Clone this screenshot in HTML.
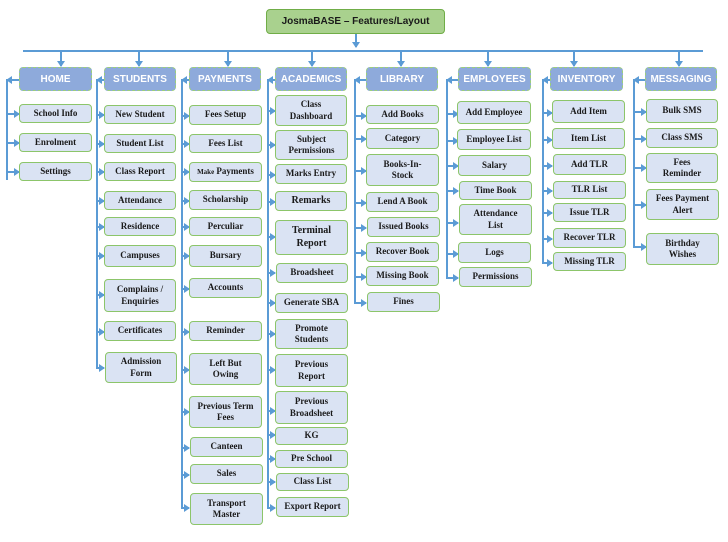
<!DOCTYPE html>
<html><head><meta charset="utf-8"><style>
html,body{margin:0;padding:0;background:#fff}
#w{position:relative;width:728px;height:542px;overflow:hidden}
.b{position:absolute;box-sizing:border-box;background:#dae3f3;border:1.5px solid #8cc56a;border-radius:4px;display:flex;align-items:center;justify-content:center;text-align:center;font:bold 9px/1.25 "Liberation Serif",serif;color:#1a1a1a}
.h{position:absolute;box-sizing:border-box;background:#8eaadb;border:1px dashed #9ccf7a;border-radius:4px;display:flex;align-items:center;justify-content:center;font:bold 10px "Liberation Sans",sans-serif;color:#fff;height:24px;top:67px}
.v{position:absolute;width:2px;background:#5b9bd5}
.c{position:absolute;height:2px;background:#5b9bd5}
.c::after{content:"";position:absolute;right:-1px;top:-3px;border-left:6px solid #5b9bd5;border-top:4px solid transparent;border-bottom:4px solid transparent}
.l{position:absolute;height:2px;background:#5b9bd5}
.l::after{content:"";position:absolute;left:0;top:-3px;border-right:6px solid #5b9bd5;border-top:4px solid transparent;border-bottom:4px solid transparent}
.d{position:absolute;width:2px;background:#5b9bd5}
.d::after{content:"";position:absolute;left:-3px;bottom:-1px;border-top:6px solid #5b9bd5;border-left:4px solid transparent;border-right:4px solid transparent}
</style></head><body><div id="w">
<div class="b" style="left:266px;top:9px;width:179px;height:25px;background:#a9d18e;border-color:#70ad47;font:bold 10px 'Liberation Sans',sans-serif">JosmaBASE – Features/Layout</div>
<div class="d" style="left:355px;top:34px;height:13px"></div>
<div class="v" style="left:23px;top:50px;width:680px;height:2px"></div>
<div class="d" style="left:60px;top:50px;height:16px"></div>
<div class="d" style="left:138px;top:50px;height:16px"></div>
<div class="d" style="left:227px;top:50px;height:16px"></div>
<div class="d" style="left:311px;top:50px;height:16px"></div>
<div class="d" style="left:400px;top:50px;height:16px"></div>
<div class="d" style="left:487px;top:50px;height:16px"></div>
<div class="d" style="left:573px;top:50px;height:16px"></div>
<div class="d" style="left:678px;top:50px;height:16px"></div>

<div class="h" style="left:19px;width:73px">HOME</div>
<div class="h" style="left:104px;width:72px">STUDENTS</div>
<div class="h" style="left:189px;width:72px">PAYMENTS</div>
<div class="h" style="left:275px;width:72px">ACADEMICS</div>
<div class="h" style="left:366px;width:72px">LIBRARY</div>
<div class="h" style="left:458px;width:73px">EMPLOYEES</div>
<div class="h" style="left:550px;width:73px">INVENTORY</div>
<div class="h" style="left:645px;width:72px">MESSAGING</div>

<!-- spines -->
<div class="v" style="left:6px;top:79px;height:101px"></div><div class="l" style="left:6px;top:79px;width:13px"></div>
<div class="v" style="left:96px;top:79px;height:289px"></div><div class="l" style="left:96px;top:79px;width:8px"></div>
<div class="v" style="left:181px;top:79px;height:429px"></div><div class="l" style="left:181px;top:79px;width:8px"></div>
<div class="v" style="left:267px;top:79px;height:429px"></div><div class="l" style="left:267px;top:79px;width:8px"></div>
<div class="v" style="left:354px;top:79px;height:223px"></div><div class="l" style="left:354px;top:79px;width:12px"></div>
<div class="v" style="left:446px;top:79px;height:199px"></div><div class="l" style="left:446px;top:79px;width:12px"></div>
<div class="v" style="left:542px;top:79px;height:184px"></div><div class="l" style="left:542px;top:79px;width:8px"></div>
<div class="v" style="left:633px;top:79px;height:168px"></div><div class="l" style="left:633px;top:79px;width:12px"></div>

<!-- HOME -->
<div class="c" style="left:6px;top:113px;width:13px"></div><div class="b" style="left:19px;top:104px;width:73px;height:19px">School Info</div>
<div class="c" style="left:6px;top:142px;width:13px"></div><div class="b" style="left:19px;top:133px;width:73px;height:19px">Enrolment</div>
<div class="c" style="left:6px;top:171px;width:13px"></div><div class="b" style="left:19px;top:162px;width:73px;height:19px">Settings</div>

<!-- STUDENTS -->
<div class="c" style="left:96px;top:114px;width:8px"></div><div class="b" style="left:104px;top:105px;width:72px;height:19px">New Student</div>
<div class="c" style="left:96px;top:143px;width:8px"></div><div class="b" style="left:104px;top:134px;width:72px;height:19px">Student List</div>
<div class="c" style="left:96px;top:171px;width:8px"></div><div class="b" style="left:104px;top:162px;width:72px;height:19px">Class Report</div>
<div class="c" style="left:96px;top:200px;width:8px"></div><div class="b" style="left:104px;top:191px;width:72px;height:19px">Attendance</div>
<div class="c" style="left:96px;top:226px;width:8px"></div><div class="b" style="left:104px;top:217px;width:72px;height:19px">Residence</div>
<div class="c" style="left:96px;top:255px;width:8px"></div><div class="b" style="left:104px;top:245px;width:72px;height:22px">Campuses</div>
<div class="c" style="left:96px;top:294px;width:8px"></div><div class="b" style="left:104px;top:279px;width:72px;height:33px">Complains /<br>Enquiries</div>
<div class="c" style="left:96px;top:331px;width:8px"></div><div class="b" style="left:104px;top:321px;width:72px;height:20px">Certificates</div>
<div class="c" style="left:96px;top:367px;width:8px"></div><div class="b" style="left:105px;top:352px;width:72px;height:31px">Admission<br>Form</div>

<!-- PAYMENTS -->
<div class="c" style="left:181px;top:115px;width:8px"></div><div class="b" style="left:189px;top:105px;width:73px;height:20px">Fees Setup</div>
<div class="c" style="left:181px;top:143px;width:8px"></div><div class="b" style="left:189px;top:134px;width:73px;height:19px">Fees List</div>
<div class="c" style="left:181px;top:171px;width:8px"></div><div class="b" style="left:189px;top:162px;width:73px;height:20px"><span style="font-size:7px">Make</span>&nbsp;Payments</div>
<div class="c" style="left:181px;top:200px;width:8px"></div><div class="b" style="left:189px;top:190px;width:73px;height:20px">Scholarship</div>
<div class="c" style="left:181px;top:226px;width:8px"></div><div class="b" style="left:189px;top:217px;width:73px;height:19px">Perculiar</div>
<div class="c" style="left:181px;top:255px;width:8px"></div><div class="b" style="left:189px;top:245px;width:73px;height:22px">Bursary</div>
<div class="c" style="left:181px;top:288px;width:8px"></div><div class="b" style="left:189px;top:278px;width:73px;height:20px">Accounts</div>
<div class="c" style="left:181px;top:331px;width:8px"></div><div class="b" style="left:189px;top:321px;width:73px;height:20px">Reminder</div>
<div class="c" style="left:181px;top:369px;width:8px"></div><div class="b" style="left:189px;top:353px;width:73px;height:32px">Left But<br>Owing</div>
<div class="c" style="left:181px;top:411px;width:8px"></div><div class="b" style="left:189px;top:396px;width:73px;height:32px">Previous Term<br>Fees</div>
<div class="c" style="left:181px;top:447px;width:8px"></div><div class="b" style="left:190px;top:437px;width:73px;height:20px">Canteen</div>
<div class="c" style="left:181px;top:474px;width:8px"></div><div class="b" style="left:190px;top:464px;width:73px;height:20px">Sales</div>
<div class="c" style="left:181px;top:507px;width:8px"></div><div class="b" style="left:190px;top:493px;width:73px;height:32px">Transport<br>Master</div>

<!-- ACADEMICS -->
<div class="c" style="left:267px;top:110px;width:8px"></div><div class="b" style="left:275px;top:95px;width:72px;height:31px">Class<br>Dashboard</div>
<div class="c" style="left:267px;top:144px;width:8px"></div><div class="b" style="left:275px;top:130px;width:73px;height:30px">Subject<br>Permissions</div>
<div class="c" style="left:267px;top:174px;width:8px"></div><div class="b" style="left:275px;top:164px;width:72px;height:20px">Marks Entry</div>
<div class="c" style="left:267px;top:201px;width:8px"></div><div class="b" style="left:275px;top:191px;width:72px;height:20px;font-size:10px">Remarks</div>
<div class="c" style="left:267px;top:236px;width:8px"></div><div class="b" style="left:275px;top:220px;width:73px;height:35px;font-size:10px">Terminal<br>Report</div>
<div class="c" style="left:267px;top:272px;width:8px"></div><div class="b" style="left:276px;top:263px;width:72px;height:20px">Broadsheet</div>
<div class="c" style="left:267px;top:302px;width:8px"></div><div class="b" style="left:275px;top:293px;width:73px;height:20px">Generate SBA</div>
<div class="c" style="left:267px;top:333px;width:8px"></div><div class="b" style="left:275px;top:319px;width:73px;height:30px">Promote<br>Students</div>
<div class="c" style="left:267px;top:369px;width:8px"></div><div class="b" style="left:275px;top:354px;width:73px;height:33px">Previous<br>Report</div>
<div class="c" style="left:267px;top:410px;width:8px"></div><div class="b" style="left:275px;top:391px;width:73px;height:33px">Previous<br>Broadsheet</div>
<div class="c" style="left:267px;top:434px;width:8px"></div><div class="b" style="left:275px;top:427px;width:73px;height:18px">KG</div>
<div class="c" style="left:267px;top:458px;width:8px"></div><div class="b" style="left:275px;top:450px;width:73px;height:18px">Pre School</div>
<div class="c" style="left:267px;top:481px;width:8px"></div><div class="b" style="left:276px;top:473px;width:73px;height:18px">Class List</div>
<div class="c" style="left:267px;top:507px;width:8px"></div><div class="b" style="left:276px;top:497px;width:73px;height:20px">Export Report</div>

<!-- LIBRARY -->
<div class="c" style="left:354px;top:115px;width:12px"></div><div class="b" style="left:366px;top:105px;width:73px;height:19px">Add Books</div>
<div class="c" style="left:354px;top:138px;width:12px"></div><div class="b" style="left:366px;top:128px;width:73px;height:21px">Category</div>
<div class="c" style="left:354px;top:170px;width:12px"></div><div class="b" style="left:366px;top:154px;width:73px;height:32px">Books-In-<br>Stock</div>
<div class="c" style="left:354px;top:202px;width:12px"></div><div class="b" style="left:366px;top:192px;width:73px;height:20px">Lend A Book</div>
<div class="c" style="left:354px;top:227px;width:12px"></div><div class="b" style="left:367px;top:217px;width:73px;height:20px">Issued Books</div>
<div class="c" style="left:354px;top:252px;width:12px"></div><div class="b" style="left:366px;top:242px;width:73px;height:20px">Recover Book</div>
<div class="c" style="left:354px;top:276px;width:12px"></div><div class="b" style="left:366px;top:266px;width:73px;height:20px">Missing Book</div>
<div class="c" style="left:354px;top:302px;width:12px"></div><div class="b" style="left:367px;top:292px;width:73px;height:20px">Fines</div>

<!-- EMPLOYEES -->
<div class="c" style="left:446px;top:113px;width:12px"></div><div class="b" style="left:457px;top:101px;width:74px;height:23px">Add Employee</div>
<div class="c" style="left:446px;top:140px;width:12px"></div><div class="b" style="left:457px;top:129px;width:74px;height:21px">Employee List</div>
<div class="c" style="left:446px;top:165px;width:12px"></div><div class="b" style="left:458px;top:155px;width:73px;height:21px">Salary</div>
<div class="c" style="left:446px;top:190px;width:12px"></div><div class="b" style="left:459px;top:181px;width:73px;height:19px">Time Book</div>
<div class="c" style="left:446px;top:222px;width:12px"></div><div class="b" style="left:459px;top:204px;width:73px;height:31px">Attendance<br>List</div>
<div class="c" style="left:446px;top:253px;width:12px"></div><div class="b" style="left:458px;top:242px;width:73px;height:21px">Logs</div>
<div class="c" style="left:446px;top:277px;width:12px"></div><div class="b" style="left:459px;top:267px;width:73px;height:20px">Permissions</div>

<!-- INVENTORY -->
<div class="c" style="left:542px;top:112px;width:10px"></div><div class="b" style="left:552px;top:100px;width:73px;height:23px">Add Item</div>
<div class="c" style="left:542px;top:139px;width:10px"></div><div class="b" style="left:552px;top:128px;width:73px;height:21px">Item List</div>
<div class="c" style="left:542px;top:165px;width:10px"></div><div class="b" style="left:553px;top:154px;width:73px;height:21px">Add TLR</div>
<div class="c" style="left:542px;top:190px;width:10px"></div><div class="b" style="left:553px;top:181px;width:73px;height:18px">TLR List</div>
<div class="c" style="left:542px;top:212px;width:10px"></div><div class="b" style="left:553px;top:203px;width:73px;height:19px">Issue TLR</div>
<div class="c" style="left:542px;top:238px;width:10px"></div><div class="b" style="left:553px;top:228px;width:73px;height:20px">Recover TLR</div>
<div class="c" style="left:542px;top:262px;width:10px"></div><div class="b" style="left:553px;top:252px;width:73px;height:19px">Missing TLR</div>

<!-- MESSAGING -->
<div class="c" style="left:633px;top:111px;width:13px"></div><div class="b" style="left:646px;top:99px;width:72px;height:24px">Bulk SMS</div>
<div class="c" style="left:633px;top:138px;width:13px"></div><div class="b" style="left:646px;top:128px;width:72px;height:20px">Class SMS</div>
<div class="c" style="left:633px;top:167px;width:13px"></div><div class="b" style="left:646px;top:153px;width:72px;height:30px">Fees<br>Reminder</div>
<div class="c" style="left:633px;top:204px;width:13px"></div><div class="b" style="left:646px;top:189px;width:73px;height:31px">Fees Payment<br>Alert</div>
<div class="c" style="left:633px;top:246px;width:13px"></div><div class="b" style="left:646px;top:233px;width:73px;height:32px">Birthday<br>Wishes</div>
</div></body></html>
